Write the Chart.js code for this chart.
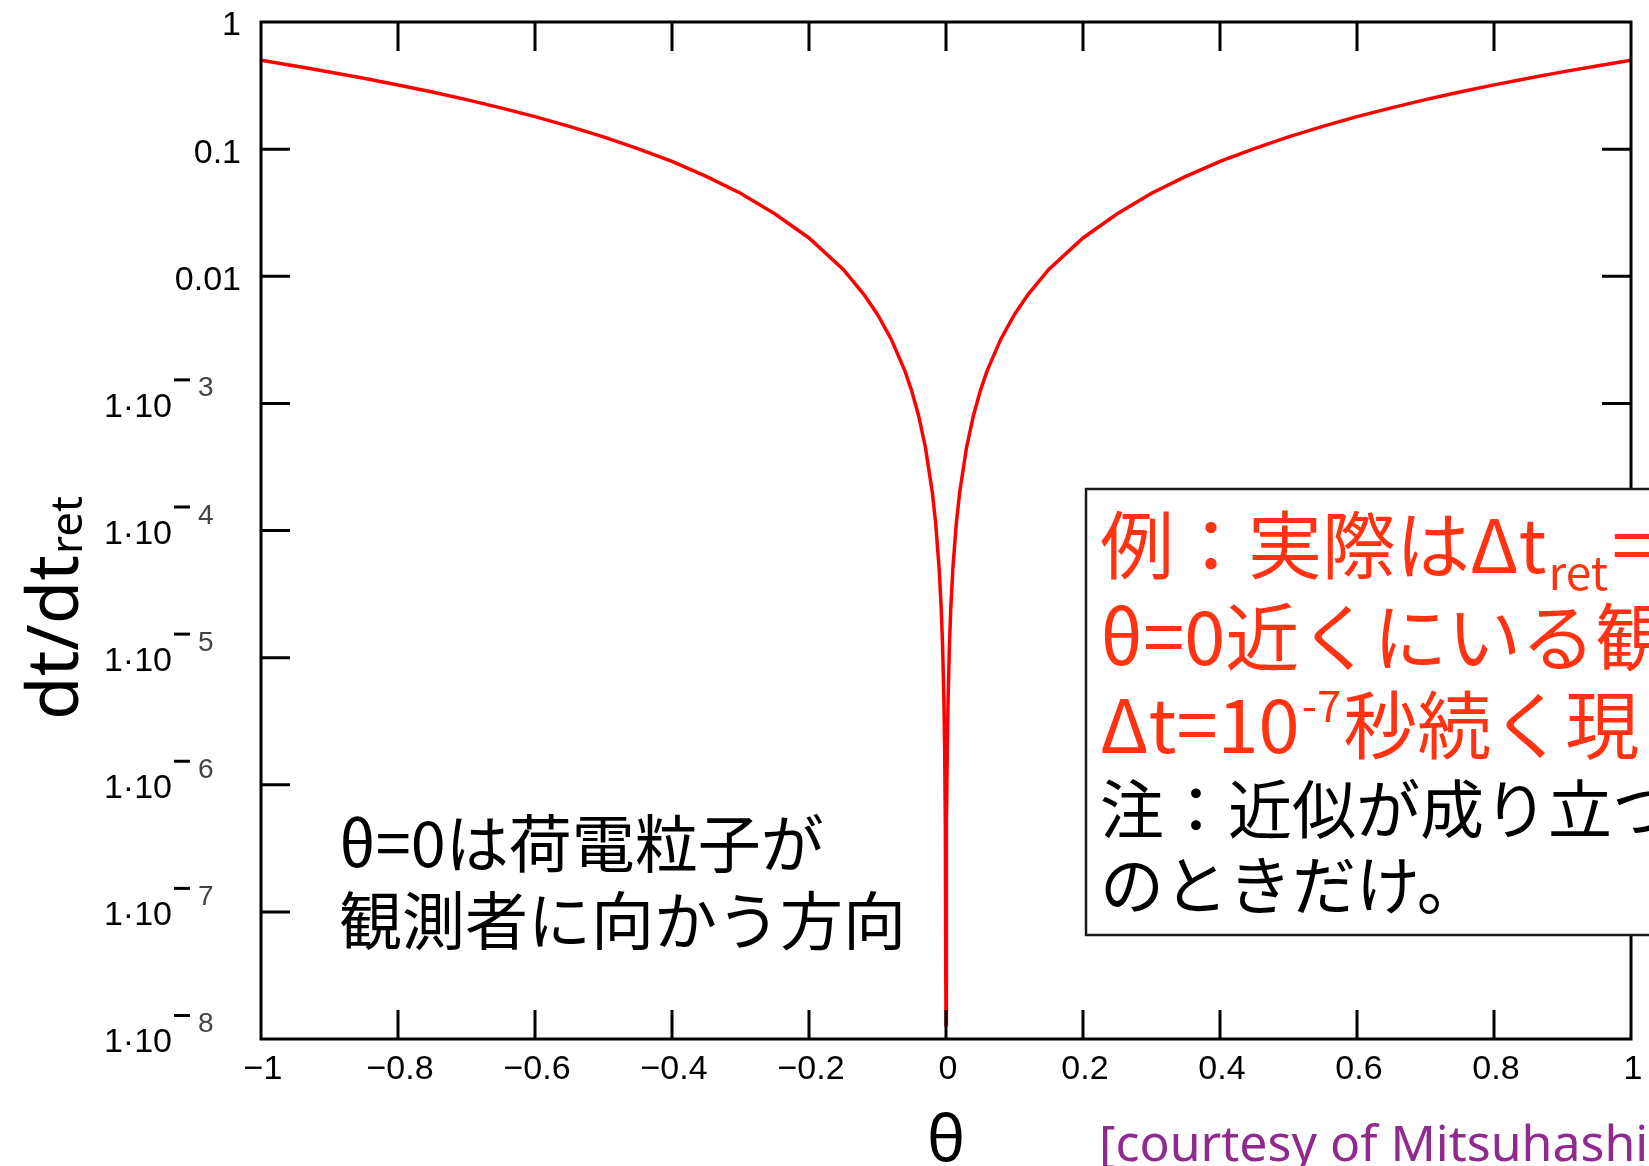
<!DOCTYPE html>
<html>
<head>
<meta charset="utf-8">
<script src="https://cdn.jsdelivr.net/npm/chart.js@4/dist/chart.umd.min.js"></script>
<style>
  html, body { margin: 0; padding: 0; background: #ffffff; overflow: hidden; }
  canvas { display: block; }
</style>
</head>
<body>
<canvas id="chart" width="1649" height="1166"></canvas>
<script>
// Angle θ (rad) and the ratio dt/dt_ret at each sampled angle
const theta = [
  -1.0, -0.95, -0.9, -0.85, -0.8, -0.75, -0.7, -0.65, -0.6, -0.55,
  -0.5, -0.45, -0.4, -0.35, -0.3, -0.25, -0.2, -0.15, -0.12, -0.1,
  -0.08, -0.06, -0.05, -0.04, -0.03, -0.02, -0.015, -0.01, -0.007, -0.005,
  -0.003, -0.002, -0.001, -0.0005, -0.0002,
  0,
  0.0002, 0.0005, 0.001, 0.002, 0.003, 0.005, 0.007, 0.01, 0.015, 0.02,
  0.03, 0.04, 0.05, 0.06, 0.08, 0.1, 0.12, 0.15, 0.2, 0.25,
  0.3, 0.35, 0.4, 0.45, 0.5, 0.55, 0.6, 0.65, 0.7, 0.75,
  0.8, 0.85, 0.9, 0.95, 1.0
];
const ratio = [
  0.50, 0.451, 0.405, 0.361, 0.32, 0.281, 0.245, 0.211, 0.18, 0.151,
  0.125, 0.101, 0.080, 0.061, 0.045, 0.031, 0.020, 0.0113, 0.0072, 0.0050,
  0.0032, 0.0018, 0.00125, 0.0008, 0.00045, 0.0002, 0.000113, 0.00005, 0.0000245, 0.0000125,
  0.0000045, 0.000002, 5.1e-7, 1.4e-7, 3.3e-8,
  1.3e-8,
  3.3e-8, 1.4e-7, 5.1e-7, 0.000002, 0.0000045, 0.0000125, 0.0000245, 0.00005, 0.000113, 0.0002,
  0.00045, 0.0008, 0.00125, 0.0018, 0.0032, 0.0050, 0.0072, 0.0113, 0.020, 0.031,
  0.045, 0.061, 0.080, 0.101, 0.125, 0.151, 0.18, 0.211, 0.245, 0.281,
  0.32, 0.361, 0.405, 0.451, 0.50
];

// Axis ticks and their labels
const xTicks = [-1, -0.8, -0.6, -0.4, -0.2, 0, 0.2, 0.4, 0.6, 0.8, 1];
const xTickLabels = ['\u22121', '\u22120.8', '\u22120.6', '\u22120.4', '\u22120.2', '0', '0.2', '0.4', '0.6', '0.8', '1'];
const yTicks = [1, 0.1, 0.01, 1e-3, 1e-4, 1e-5, 1e-6, 1e-7, 1e-8];
const yTickLabels = ['1', '0.1', '0.01', '1\u00b710', '1\u00b710', '1\u00b710', '1\u00b710', '1\u00b710', '1\u00b710'];
const yTickExponents = ['', '', '', '3', '4', '5', '6', '7', '8'];

const TICK_FONT = '34px "Liberation Sans"';
const JP = '"Noto Sans CJK JP"';

// Frame, inward ticks, labels and annotation text
const decorations = {
  id: 'decorations',
  afterDatasetsDraw(chart) {
    const ctx = chart.ctx;
    const a = chart.chartArea;
    const xs = chart.scales.x;
    const ys = chart.scales.y;
    const tick = 29;

    ctx.save();
    ctx.strokeStyle = '#000';
    ctx.lineWidth = 3;
    ctx.strokeRect(a.left, a.top, a.right - a.left, a.bottom - a.top);

    // inward ticks on bottom/top
    ctx.beginPath();
    xTicks.forEach(v => {
      if (v === xs.min || v === xs.max) return;
      const px = xs.getPixelForValue(v);
      ctx.moveTo(px, a.bottom); ctx.lineTo(px, a.bottom - tick);
      ctx.moveTo(px, a.top); ctx.lineTo(px, a.top + tick);
    });
    // inward ticks on left/right
    yTicks.forEach(v => {
      if (v === ys.min || v === ys.max) return;
      const py = ys.getPixelForValue(v);
      ctx.moveTo(a.left, py); ctx.lineTo(a.left + tick, py);
      ctx.moveTo(a.right, py); ctx.lineTo(a.right - tick, py);
    });
    ctx.stroke();

    // x tick labels
    ctx.fillStyle = '#000';
    ctx.font = TICK_FONT;
    ctx.textAlign = 'center';
    ctx.textBaseline = 'middle';
    xTicks.forEach((v, i) => {
      ctx.fillText(xTickLabels[i], xs.getPixelForValue(v) + 2, a.bottom + 31);
    });

    // y tick labels, with raised exponent for powers of ten
    yTicks.forEach((v, i) => {
      const py = ys.getPixelForValue(v);
      ctx.font = TICK_FONT;
      ctx.textBaseline = 'middle';
      ctx.textAlign = 'right';
      ctx.fillStyle = '#000';
      if (!yTickExponents[i]) {
        ctx.fillText(yTickLabels[i], a.left - 20, py + 4);
      } else {
        ctx.fillText(yTickLabels[i], a.left - 89, py + 4);
        ctx.fillRect(a.left - 87, py - 25, 16, 3);
        ctx.font = '28px "Liberation Sans"';
        ctx.textAlign = 'left';
        ctx.textBaseline = 'alphabetic';
        ctx.fillStyle = '#444';
        ctx.fillText(yTickExponents[i], a.left - 63, py - 7);
      }
    });

    // y axis title: dt/dt_ret, rotated
    ctx.save();
    ctx.translate(78, 720);
    ctx.rotate(-Math.PI / 2);
    ctx.fillStyle = '#000';
    ctx.textAlign = 'left';
    ctx.textBaseline = 'alphabetic';
    ctx.font = '71px "Noto Sans"';
    ctx.fillText('dt/dt', 0, 0);
    const w = ctx.measureText('dt/dt').width;
    ctx.font = '44px "Noto Sans"';
    ctx.fillText('ret', w + 1, 4);
    ctx.restore();

    // x axis title
    ctx.font = '64px "Noto Sans"';
    ctx.textAlign = 'center';
    ctx.textBaseline = 'alphabetic';
    ctx.fillStyle = '#000';
    ctx.fillText('\u03b8', (a.left + a.right) / 2, 1161);

    // credit line
    ctx.font = '50px "Noto Sans"';
    ctx.textAlign = 'left';
    ctx.fillStyle = '#912a8f';
    ctx.fillText('[courtesy of Mitsuhashi]', 1099, 1161);

    // note on the direction θ = 0
    ctx.font = '63px ' + JP;
    ctx.fillStyle = '#000';
    ctx.fillText('\u03b8=0\u306f\u8377\u96fb\u7c92\u5b50\u304c', 339, 867);
    ctx.fillText('\u89b3\u6e2c\u8005\u306b\u5411\u304b\u3046\u65b9\u5411', 339, 944);

    // boxed remark
    ctx.fillStyle = '#fff';
    ctx.fillRect(1086, 489, 700, 446);
    ctx.strokeStyle = '#1a1a1a';
    ctx.lineWidth = 2.5;
    ctx.strokeRect(1086, 489, 700, 446);

    const red = '#ff3311';
    let x = 1100;
    ctx.fillStyle = red;
    ctx.font = '74px ' + JP;
    let s = '\u4f8b\uff1a\u5b9f\u969b\u306f\u0394t';
    ctx.fillText(s, x, 573);
    x += ctx.measureText(s).width;
    ctx.font = '46px ' + JP;
    ctx.fillText('ret', x + 2, 590);
    x += ctx.measureText('ret').width + 6;
    ctx.font = '74px ' + JP;
    ctx.fillText('=', x, 573);

    ctx.fillText('\u03b8=0\u8fd1\u304f\u306b\u3044\u308b\u89b3', 1100, 665);

    x = 1100;
    s = '\u0394t=10';
    ctx.fillText(s, x, 753);
    x += ctx.measureText(s).width;
    ctx.font = '44px ' + JP;
    ctx.fillText('-7', x + 2, 722);
    x += ctx.measureText('-7').width + 4;
    ctx.font = '74px ' + JP;
    ctx.fillText('\u79d2\u7d9a\u304f\u73fe', x, 753);

    ctx.fillStyle = '#000';
    ctx.font = '64px ' + JP;
    ctx.fillText('\u6ce8\uff1a\u8fd1\u4f3c\u304c\u6210\u308a\u7acb\u3064', 1100, 833);
    ctx.fillText('\u306e\u3068\u304d\u3060\u3051\u3002', 1100, 909);

    ctx.restore();
  }
};

new Chart(document.getElementById('chart'), {
  type: 'line',
  data: {
    datasets: [{
      data: theta.map((t, i) => ({ x: t, y: ratio[i] })),
      borderColor: '#ff0000',
      borderWidth: 3.5,
      pointRadius: 0,
      tension: 0,
      fill: false
    }]
  },
  options: {
    responsive: false,
    animation: false,
    layout: { padding: { left: 261, right: 18, top: 22, bottom: 127 } },
    plugins: { legend: { display: false }, tooltip: { enabled: false } },
    scales: {
      x: { type: 'linear', min: -1, max: 1, display: false },
      y: { type: 'logarithmic', min: 1e-8, max: 1, display: false }
    }
  },
  plugins: [decorations]
});
</script>
</body>
</html>
